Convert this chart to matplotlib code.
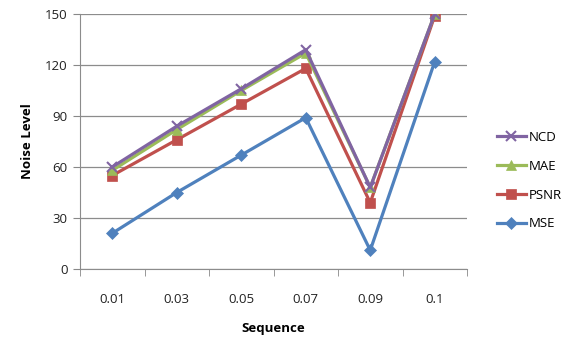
import numpy as np
import matplotlib
matplotlib.use("Agg")
import matplotlib.pyplot as plt
from matplotlib.ticker import FixedLocator

plt.rcParams['font.family'] = ['Open Sans', 'DejaVu Sans']

sequence = ['0.01', '0.03', '0.05', '0.07', '0.09', '0.1']
mse = [21, 45, 67, 89, 11, 122]
psnr = [55, 76, 97, 118, 39, 149]
mae = [58, 82, 105, 127, 48, 150]
ncd = [60, 84, 106, 129, 48, 150]

# series order as drawn (bottom to top), legend shows them reversed
series = [
    ('MSE', mse, '#4F81BD', 'D', 6.5),
    ('PSNR', psnr, '#C0504D', 's', 7.5),
    ('MAE', mae, '#9BBB59', '^', 7.5),
    ('NCD', ncd, '#8064A2', 'x', 7.5),
]

fig = plt.figure(figsize=(5.69, 3.38), dpi=100)
ax = fig.add_axes([80 / 569, 1 - 269 / 338, (467 - 80) / 569, (269 - 14) / 338])

x = np.arange(len(sequence))
handles = []
for name, vals, col, mk, ms in series:
    h, = ax.plot(x, vals, color=col, lw=2.3, marker=mk, ms=ms,
                 mew=1.5 if mk == 'x' else 0.5, mec=col, mfc=col, label=name)
    handles.append(h)

ax.set_xlim(-0.5, len(sequence) - 0.5)
ax.set_ylim(0, 150)
ax.set_yticks(range(0, 151, 30))
ax.set_xticks(x)
ax.set_xticklabels(sequence)
ax.xaxis.set_minor_locator(FixedLocator(np.arange(-0.5, len(sequence), 1.0)))
ax.tick_params(axis='x', which='major', length=0, pad=17, labelsize=9.5, colors='#222222')
ax.tick_params(axis='x', which='minor', length=5, color='#888888')
ax.tick_params(axis='y', length=5, color='#888888', labelcolor='#222222', labelsize=9.5, pad=4)

ax.grid(axis='y', color='#8c8c8c', lw=0.9)
ax.set_axisbelow(True)
for s in ['top', 'right']:
    ax.spines[s].set_visible(False)
ax.spines['left'].set_color('#8c8c8c')
ax.spines['bottom'].set_color('#8c8c8c')

ax.set_ylabel('Noise Level', fontsize=9.5, fontweight='bold', labelpad=8)
ax.set_xlabel('Sequence', fontsize=9.5, fontweight='bold', labelpad=12)

fig.legend(handles[::-1], [h.get_label() for h in handles[::-1]],
           loc='upper left', bbox_to_anchor=(485 / 569, 1 - 119 / 338),
           frameon=False, fontsize=9.5, handlelength=2.2, labelspacing=1.2,
           handletextpad=0.2)

fig.savefig('out.png', dpi=100)
